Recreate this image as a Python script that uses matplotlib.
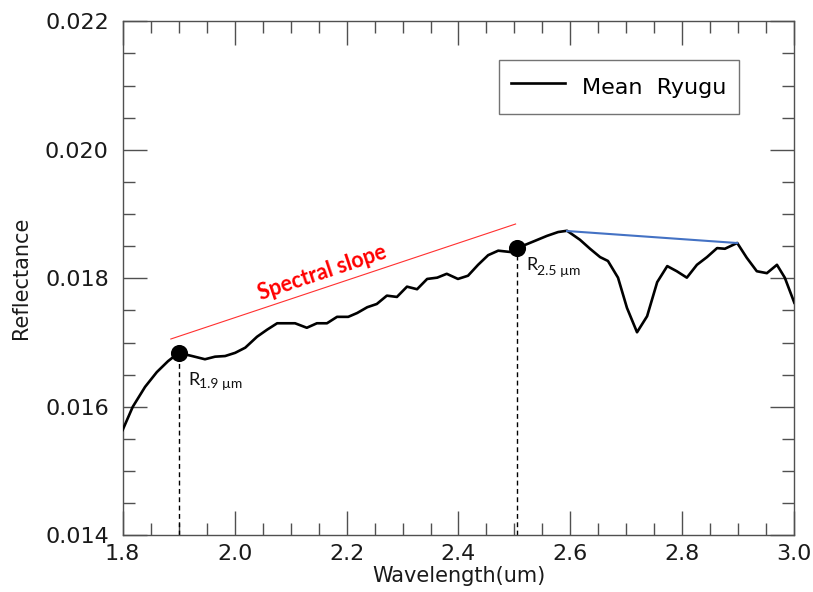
"""Mean Ryugu reflectance spectrum with spectral slope and band markers."""
import matplotlib
matplotlib.use("Agg")
import matplotlib.pyplot as plt
from matplotlib.ticker import MultipleLocator

# mean Ryugu spectrum
wavelength = [
    1.800, 1.818, 1.840, 1.861, 1.881, 1.900, 1.924, 1.947, 1.965, 1.983,
    2.001, 2.019, 2.040, 2.058, 2.076, 2.092, 2.108, 2.129, 2.147, 2.165,
    2.183, 2.203, 2.219, 2.237, 2.254, 2.272, 2.290, 2.308, 2.326, 2.344,
    2.362, 2.379, 2.399, 2.417, 2.435, 2.453, 2.471, 2.492, 2.505, 2.533,
    2.558, 2.578, 2.594, 2.617, 2.635, 2.653, 2.667, 2.685, 2.701, 2.719,
    2.737, 2.755, 2.773, 2.790, 2.808, 2.826, 2.844, 2.862, 2.876, 2.898,
    2.915, 2.933, 2.951, 2.969, 2.983, 3.000,
]
reflectance = [
    0.01564, 0.01600, 0.01631, 0.01654, 0.01671, 0.01684, 0.01679, 0.01674,
    0.01678, 0.01679, 0.01684, 0.01692, 0.01709, 0.01720, 0.01730, 0.01730,
    0.01730, 0.01723, 0.01730, 0.01730, 0.01740, 0.01740, 0.01746, 0.01755,
    0.01760, 0.01773, 0.01771, 0.01787, 0.01783, 0.01799, 0.01801, 0.01807,
    0.01799, 0.01804, 0.01821, 0.01836, 0.01843, 0.01841, 0.01847, 0.01857,
    0.01866, 0.01872, 0.01874, 0.01860, 0.01846, 0.01833, 0.01827, 0.01801,
    0.01754, 0.01716, 0.01741, 0.01794, 0.01819, 0.01811, 0.01801, 0.01821,
    0.01833, 0.01847, 0.01846, 0.01855, 0.01832, 0.01811, 0.01808, 0.01821,
    0.01801, 0.01762,
]

# reflectance points used for the slope
r_wave = [1.900, 2.505]
r_refl = [0.016837, 0.018472]
r_labels = ["1.9 µm", "2.5 µm"]

# spectral slope guide line (red) and continuum across the 2.7 µm band (blue)
slope_x = [1.886, 2.502]
slope_y = [0.017055, 0.018845]
cont_x = [2.594, 2.898]
cont_y = [0.018736, 0.018549]

spine_col = "#505050"

fig = plt.figure(figsize=(8.13, 5.92), dpi=100)
ax = fig.add_axes([0.1509, 0.0958, 0.8261, 0.8682])

ax.plot(wavelength, reflectance, color="black", linewidth=1.9,
        label="Mean  Ryugu", zorder=3)
ax.plot(cont_x, cont_y, color="#4472C4", linewidth=1.5, zorder=4)
ax.plot(slope_x, slope_y, color="#ff3030", linewidth=0.8, zorder=2)

for xw, yr in zip(r_wave, r_refl):
    ax.plot([xw, xw], [0.014, yr], color="black", linestyle=(0, (3.5, 2.5)),
            linewidth=1.0, zorder=2)
ax.plot(r_wave, r_refl, "o", color="black", markersize=11.3, zorder=5)

# R labels with smaller subscripts
ax.text(1.9167, 0.016339, "R", fontsize=13, family="Lato",
        color="#111111", ha="left", va="baseline")
ax.text(1.9363, 0.016290, r_labels[0], fontsize=10, family="Lato",
        color="#111111", ha="left", va="baseline")
ax.text(2.5205, 0.018129, "R", fontsize=13, family="Lato",
        color="#111111", ha="left", va="baseline")
ax.text(2.5402, 0.018051, r_labels[1], fontsize=10, family="Lato",
        color="#111111", ha="left", va="baseline")

ax.text(2.156, 0.018083, "Spectral slope", color="red", fontsize=15.5,
        fontweight="bold", family="Lato", rotation=18.5,
        ha="center", va="center", rotation_mode="anchor")

ax.set_xlim(1.8, 3.0)
ax.set_ylim(0.014, 0.022)
ax.xaxis.set_major_locator(MultipleLocator(0.2))
ax.xaxis.set_minor_locator(MultipleLocator(0.05))
ax.yaxis.set_major_locator(MultipleLocator(0.002))
ax.yaxis.set_minor_locator(MultipleLocator(0.0005))
ax.xaxis.set_major_formatter(lambda v, pos: f"{v:.1f}")
ax.yaxis.set_major_formatter(lambda v, pos: f"{v:.3f}")

ax.tick_params(which="both", direction="in", top=True, right=True,
               color=spine_col, width=1.0, labelsize=16, labelcolor="#1a1a1a")
ax.tick_params(which="major", length=17)
ax.tick_params(which="minor", length=8.5)
ax.tick_params(axis="x", pad=6)
ax.tick_params(axis="y", pad=10)
for sp in ax.spines.values():
    sp.set_color(spine_col)
    sp.set_linewidth(1.0)

ax.set_xlabel("Wavelength(um)", fontsize=15, color="#1a1a1a", labelpad=2)
ax.set_ylabel("Reflectance", fontsize=15, color="#1a1a1a", labelpad=10)

leg = ax.legend(loc="upper right", bbox_to_anchor=(739 / 813, 1 - 60 / 592),
                bbox_transform=fig.transFigure, borderaxespad=0,
                fontsize=16, frameon=True, fancybox=False, handlelength=2.4,
                handleheight=1.7, handletextpad=0.8, borderpad=0.55)
leg.get_frame().set_edgecolor("#505050")
leg.get_frame().set_linewidth(1.0)

fig.savefig("out.png", dpi=100)
